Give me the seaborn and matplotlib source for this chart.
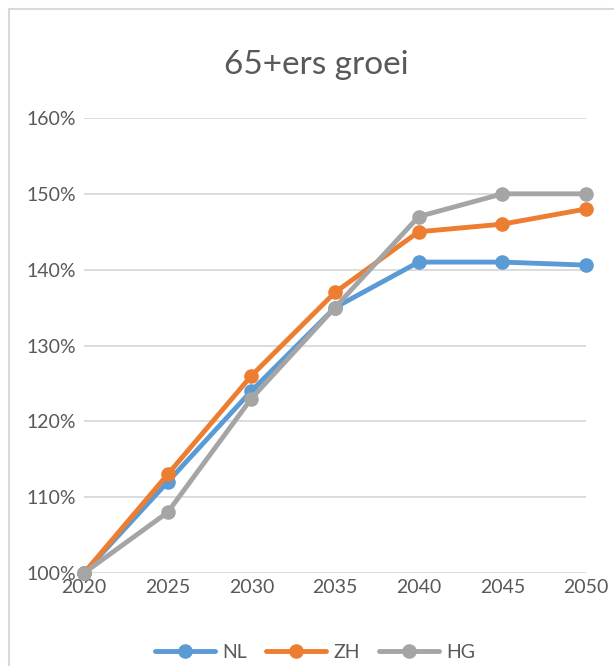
import matplotlib
matplotlib.use("Agg")
import matplotlib.pyplot as plt
import seaborn as sns
import pandas as pd
from matplotlib.patches import Rectangle

years = [2020, 2025, 2030, 2035, 2040, 2045, 2050]
nl = [100, 112, 124, 135, 141, 141, 140.6]
zh = [100, 113, 126, 137, 145, 146, 148]
hg = [100, 108, 123, 135, 147, 150, 150]
series_names = ["NL", "ZH", "HG"]
colors = ["#5B9BD5", "#ED7D31", "#A5A5A5"]
yticks = [100, 110, 120, 130, 140, 150, 160]
title = "65+ers groei"

rows = []
for name, vals in zip(series_names, [nl, zh, hg]):
    for y, v in zip(years, vals):
        rows.append({"year": y, "value": v, "series": name})
df = pd.DataFrame(rows)

sns.set_style("white")
plt.rcParams["font.family"] = ["Lato", "DejaVu Sans"]
text_color = "#595959"

fig = plt.figure(figsize=(6.14, 6.66), dpi=100)
W, H = 614, 666
ax = fig.add_axes([84 / W, 1 - 573 / H, (586 - 84) / W, (573 - 118) / H])

sns.lineplot(data=df, x="year", y="value", hue="series", hue_order=series_names,
             palette=colors, marker="o", markersize=10.5, markeredgewidth=0,
             linewidth=3.5, ax=ax, legend=True)

ax.set_xlim(2020, 2050)
ax.set_ylim(100, 160)
ax.set_xticks(years)
ax.set_xticklabels([str(y) for y in years])
ax.set_yticks(yticks)
ax.set_yticklabels([f"{t}%" for t in yticks])
ax.tick_params(axis="both", length=0, labelsize=14, colors=text_color)
ax.tick_params(axis="x", pad=4)
ax.tick_params(axis="y", pad=6)
ax.grid(axis="y", color="#D9D9D9", linewidth=1.3)
ax.set_axisbelow(True)
for s in ax.spines.values():
    s.set_visible(False)
ax.set_xlabel("")
ax.set_ylabel("")
for line in ax.get_lines():
    line.set_clip_on(False)

handles, labels = ax.get_legend_handles_labels()
ax.get_legend().remove()
fig.legend(handles, labels, loc="center", bbox_to_anchor=(315 / W, 1 - 652 / H),
           ncol=3, frameon=False, fontsize=14, labelcolor=text_color,
           handlelength=3.1, columnspacing=1.0, handletextpad=0.35)

fig.text(316 / W, 1 - 65 / H, title, ha="center", va="center",
         fontsize=24, color=text_color)

fig.patches.append(Rectangle((9 / W, -0.1), 1.2, 1 - 9 / H + 0.1, transform=fig.transFigure,
                             fill=False, edgecolor="#D9D9D9", linewidth=1.5))

fig.savefig("out.png", dpi=100)
